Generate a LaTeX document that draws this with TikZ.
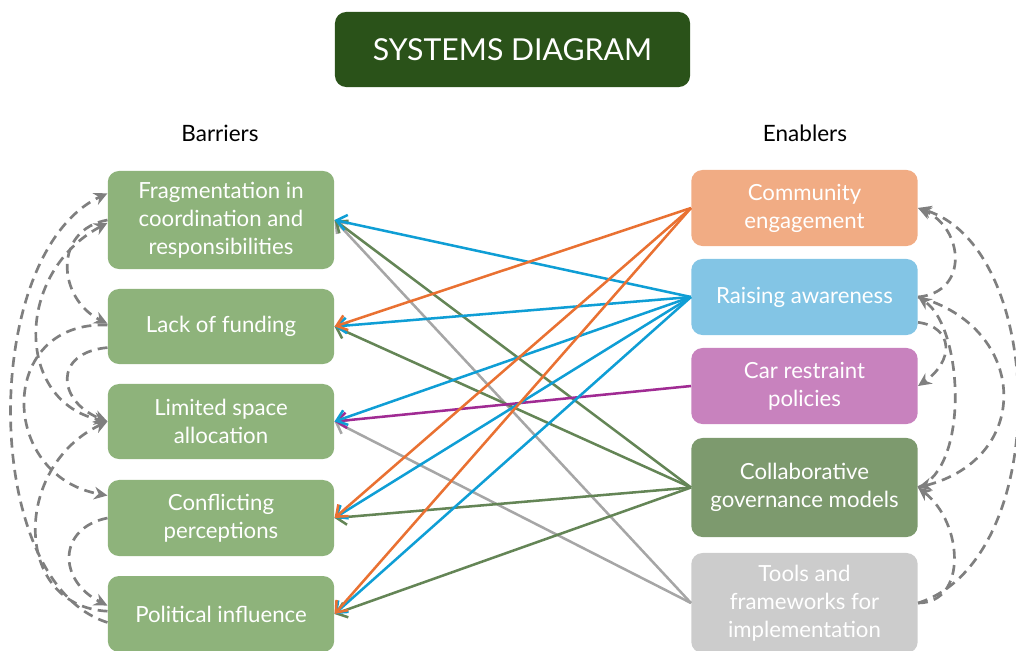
\documentclass[tikz,border=0pt]{standalone}
\usepackage{fontspec}
\setmainfont{Lato}
\usetikzlibrary{arrows.meta}

\definecolor{titlegreen}{HTML}{2A5219}
\definecolor{barrierfill}{HTML}{8EB37B}
\definecolor{commfill}{HTML}{F1AC84}
\definecolor{awarefill}{HTML}{83C5E5}
\definecolor{carfill}{HTML}{C882BE}
\definecolor{collabfill}{HTML}{7D9A6E}
\definecolor{toolsfill}{HTML}{CCCCCC}
\definecolor{orangeline}{HTML}{E97132}
\definecolor{blueline}{HTML}{0F9ED5}
\definecolor{purpleline}{HTML}{A02B93}
\definecolor{greenline}{HTML}{648556}
\definecolor{grayline}{HTML}{A6A6A6}
\definecolor{loopgray}{HTML}{7F7F7F}

\begin{document}
\begin{tikzpicture}[x=0.025cm,y=-0.025cm,
    box/.style={rounded corners=8pt,text=white,align=center,inner sep=2pt,
        minimum width=5.66cm,font=\fontsize{15.8}{20}\selectfont},
    link/.style={line width=1.8pt,-{Straight Barb[length=7pt,width=11pt]}},
    loop/.style={loopgray,line width=1.9pt,dash pattern=on 7pt off 4.5pt,
        >={Stealth[length=9.5pt,width=9pt]},->}]

    \useasboundingbox (0,0) rectangle (1016,650);

    % heading
    \node[box,fill=titlegreen,minimum width=8.875cm,minimum height=1.875cm,
        font=\fontsize{21.5}{26}\selectfont] (title) at (512.5,49.5) {SYSTEMS DIAGRAM};
    \node[font=\fontsize{16}{18}\selectfont] (barriers) at (220,133) {Barriers};
    \node[font=\fontsize{16}{18}\selectfont] (enablers) at (805,133) {Enablers};

    % barriers
    \node[box,fill=barrierfill,minimum height=2.45cm] (frag) at (221,220)
        {Fragmentation in\\coordination and\\responsibilities};
    \node[box,fill=barrierfill,minimum height=1.875cm] (fund) at (221,326.5) {Lack of funding};
    \node[box,fill=barrierfill,minimum height=1.875cm] (space) at (221,421.5)
        {Limited space\\allocation};
    \node[box,fill=barrierfill,minimum height=1.9cm] (conflict) at (221,518)
        {Conflicting\\perceptions};
    \node[box,fill=barrierfill,minimum height=1.9cm] (political) at (221,614) {Political influence};

    % enablers
    \node[box,fill=commfill,minimum height=1.9cm] (comm) at (804.5,208)
        {Community\\engagement};
    \node[box,fill=awarefill,minimum height=1.9cm] (aware) at (804.5,297) {Raising awareness};
    \node[box,fill=carfill,minimum height=1.9cm] (car) at (804.5,386)
        {Car restraint\\policies};
    \node[box,fill=collabfill,minimum height=2.475cm] (collab) at (804.5,487.5)
        {Collaborative\\governance models};
    \node[box,fill=toolsfill,minimum height=2.5cm] (tools) at (804.5,603)
        {Tools and\\frameworks for\\implementation};

    % enabler -> barrier links
    \foreach \b in {frag,space}
        \draw[link,grayline] (tools.west) -- (\b.east);
    \foreach \b in {frag,fund,conflict,political}
        \draw[link,greenline] (collab.west) -- (\b.east);
    \draw[link,purpleline] (car.west) -- (space.east);
    \foreach \b in {frag,fund,space,conflict,political}
        \draw[link,blueline] (aware.west) -- (\b.east);
    \foreach \b in {fund,conflict,political}
        \draw[link,orangeline] (comm.west) -- (\b.east);

    % feedback loops among barriers
    \draw[loop] ([yshift=-6pt]political.west) .. controls +(-128,-40) and +(-128,60) .. ([yshift=19pt]frag.west);
    \draw[loop] (frag.west) .. controls +(-55,10) and +(-50,-25) .. ([yshift=2pt]fund.west);
    \draw[loop] ([yshift=-15pt]fund.west) .. controls +(-55,5) and +(-50,-20) .. (space.west);
    \draw[loop] (conflict.west) .. controls +(-50,10) and +(-50,-25) .. ([yshift=6pt]political.west);
    \draw[loop,<->] ([yshift=-2pt]frag.west) .. controls +(-93,50) and +(-93,-20) .. (space.west);
    \draw[loop] ([yshift=2pt]political.west) .. controls +(-95,-5) and +(-95,45) .. (space.west);
    \draw[loop] ([yshift=1pt]fund.west) .. controls +(-110,-5) and +(-110,-20) .. ([yshift=16pt]conflict.west);

    % feedback loops among enablers
    \draw[loop] ([yshift=-18pt]aware.east) .. controls +(36,5) and +(36,-25) .. (car.east);
    \draw[loop] (tools.east) .. controls +(50,0) and +(45,35) .. (collab.east);
    \draw[loop] (tools.east) .. controls +(135,-43) and +(130,40) .. (comm.east);
    \draw[loop] (aware.east) .. controls +(52,-5) and +(45,20) .. (comm.east);
    \draw[loop] (collab.east) .. controls +(52,-20) and +(45,30) .. (aware.east);
    \draw[loop] (aware.east) .. controls +(110,30) and +(116,-30) .. (collab.east);

\end{tikzpicture}
\end{document}
